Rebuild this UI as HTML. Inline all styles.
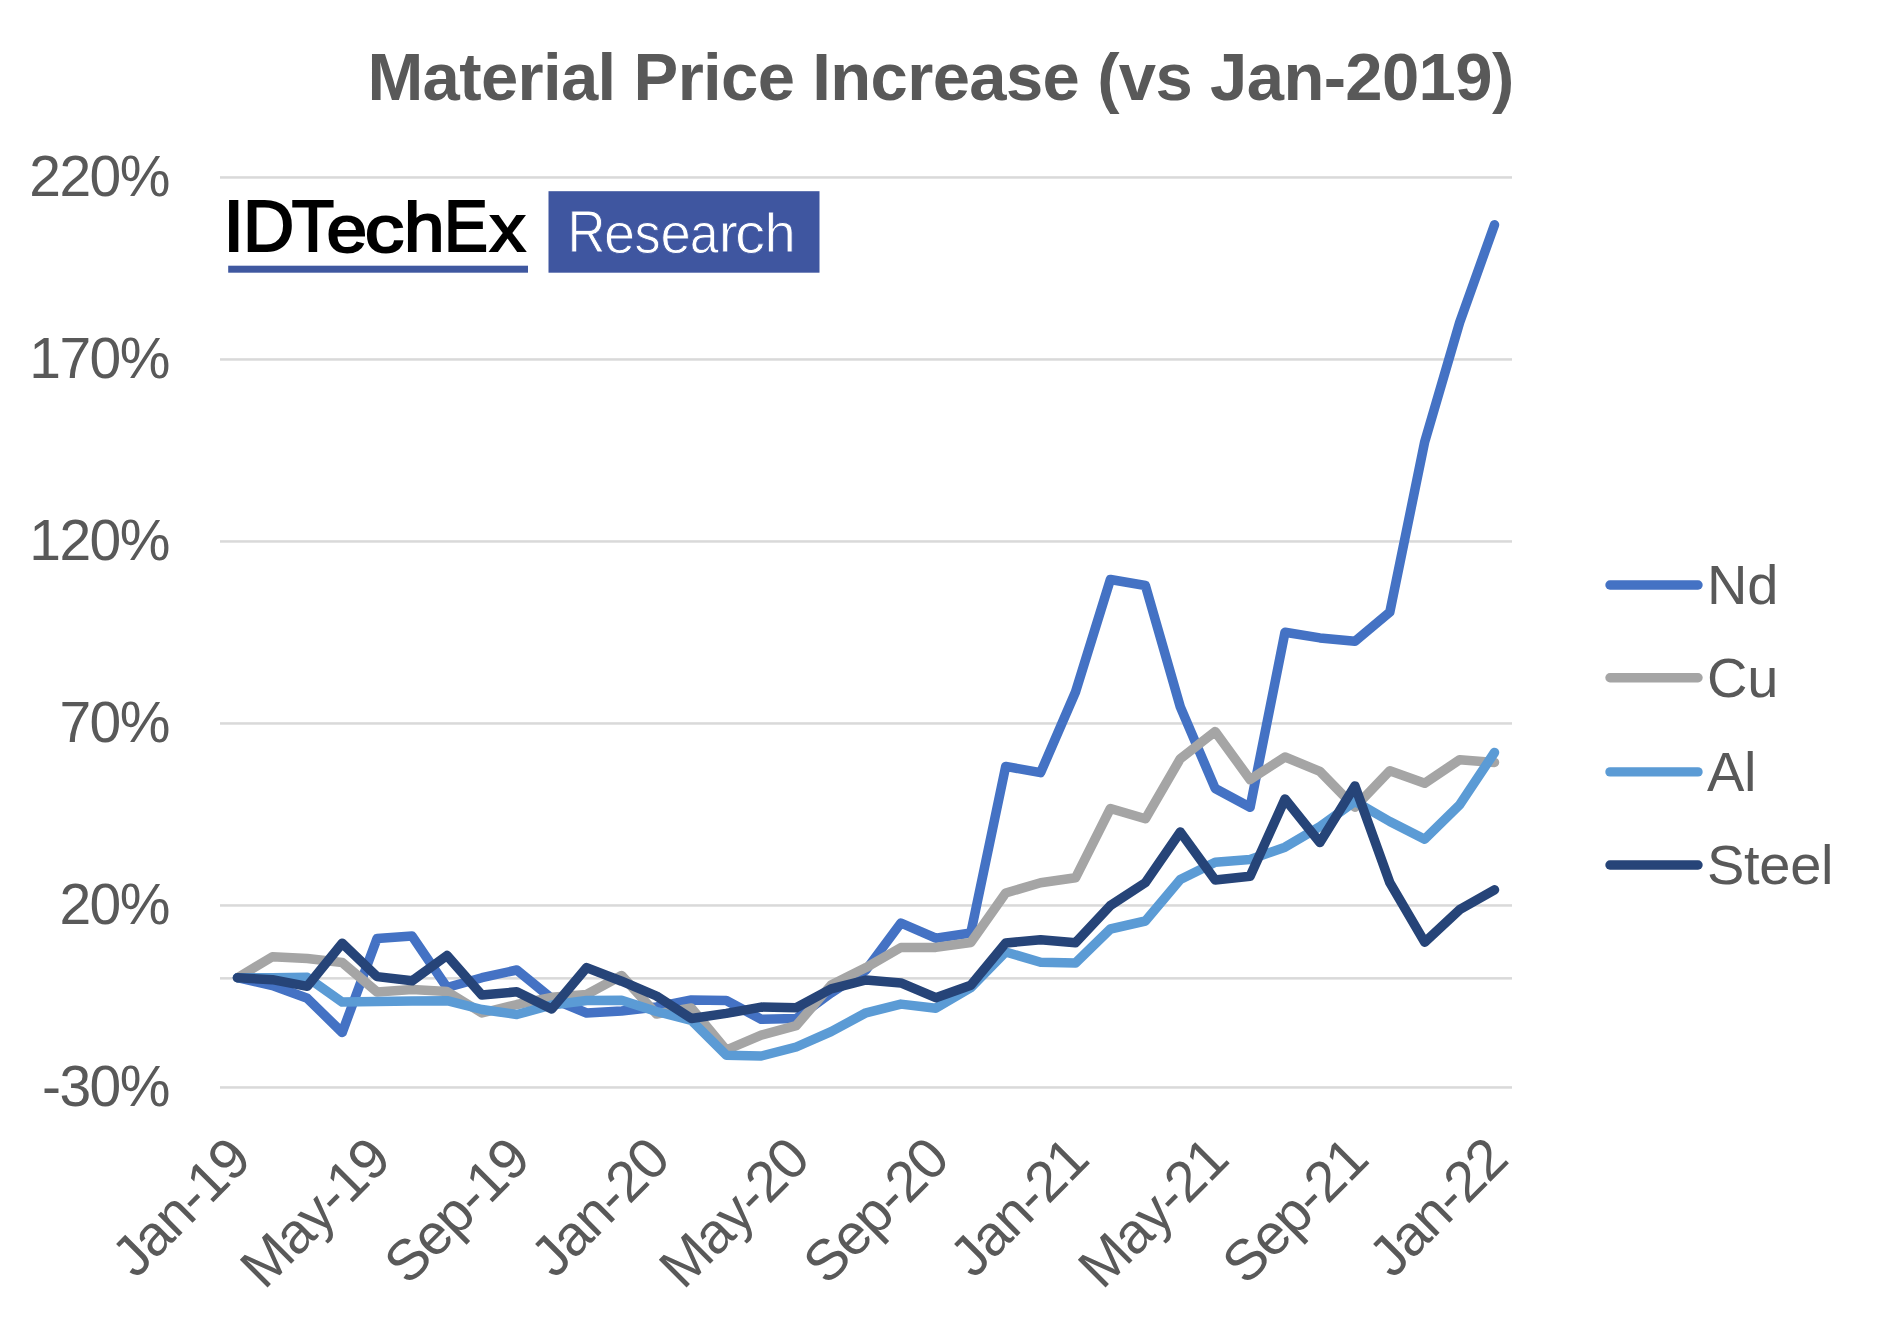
<!DOCTYPE html><html><head><meta charset="utf-8"><style>html,body{margin:0;padding:0;background:#fff;}svg{display:block;}text{font-family:"Liberation Sans",sans-serif;}</style></head><body>
<svg width="1879" height="1329" viewBox="0 0 1879 1329">
<rect width="1879" height="1329" fill="#fff"/>
<text x="940.5" y="100" text-anchor="middle" font-size="67" font-weight="bold" letter-spacing="-0.63" fill="#595959">Material Price Increase (vs Jan-2019)</text>
<rect x="220" y="176.2" width="1292" height="2.5" fill="#d9d9d9"/>
<rect x="220" y="358.2" width="1292" height="2.5" fill="#d9d9d9"/>
<rect x="220" y="540.2" width="1292" height="2.5" fill="#d9d9d9"/>
<rect x="220" y="722.2" width="1292" height="2.5" fill="#d9d9d9"/>
<rect x="220" y="904.2" width="1292" height="2.5" fill="#d9d9d9"/>
<rect x="220" y="977.1" width="1292" height="2.5" fill="#d9d9d9"/>
<rect x="220" y="1086.2" width="1292" height="2.5" fill="#d9d9d9"/>
<text x="169" y="195.5" text-anchor="end" font-size="57" letter-spacing="-1.5" fill="#595959">220%</text>
<text x="169" y="377.5" text-anchor="end" font-size="57" letter-spacing="-1.5" fill="#595959">170%</text>
<text x="169" y="559.5" text-anchor="end" font-size="57" letter-spacing="-1.5" fill="#595959">120%</text>
<text x="169" y="741.5" text-anchor="end" font-size="57" letter-spacing="-1.5" fill="#595959">70%</text>
<text x="169" y="923.5" text-anchor="end" font-size="57" letter-spacing="-1.5" fill="#595959">20%</text>
<text x="169" y="1105.5" text-anchor="end" font-size="57" letter-spacing="-1.5" fill="#595959">-30%</text>
<text transform="translate(253.0,1162.4) rotate(-45)" text-anchor="end" font-size="57" letter-spacing="-1.4" fill="#595959">Jan-19</text>
<text transform="translate(392.6,1162.4) rotate(-45)" text-anchor="end" font-size="57" letter-spacing="-1.4" fill="#595959">May-19</text>
<text transform="translate(532.3,1162.4) rotate(-45)" text-anchor="end" font-size="57" letter-spacing="-1.4" fill="#595959">Sep-19</text>
<text transform="translate(672.0,1162.4) rotate(-45)" text-anchor="end" font-size="57" letter-spacing="-1.4" fill="#595959">Jan-20</text>
<text transform="translate(811.7,1162.4) rotate(-45)" text-anchor="end" font-size="57" letter-spacing="-1.4" fill="#595959">May-20</text>
<text transform="translate(951.3,1162.4) rotate(-45)" text-anchor="end" font-size="57" letter-spacing="-1.4" fill="#595959">Sep-20</text>
<text transform="translate(1091.0,1162.4) rotate(-45)" text-anchor="end" font-size="57" letter-spacing="-1.4" fill="#595959">Jan-21</text>
<text transform="translate(1230.7,1162.4) rotate(-45)" text-anchor="end" font-size="57" letter-spacing="-1.4" fill="#595959">May-21</text>
<text transform="translate(1370.4,1162.4) rotate(-45)" text-anchor="end" font-size="57" letter-spacing="-1.4" fill="#595959">Sep-21</text>
<text transform="translate(1510.0,1162.4) rotate(-45)" text-anchor="end" font-size="57" letter-spacing="-1.4" fill="#595959">Jan-22</text>
<text x="100" y="300" font-size="200" transform="matrix(0.37600 0 0 0.35972 185.660 143.004)" fill="#000" stroke="#000" stroke-width="6">I</text>
<text x="100" y="300" font-size="200" transform="matrix(0.35440 0 0 0.35972 207.653 143.004)" fill="#000" stroke="#000" stroke-width="6">D</text>
<text x="100" y="300" font-size="200" transform="matrix(0.34706 0 0 0.35972 257.000 143.004)" fill="#000" stroke="#000" stroke-width="6">T</text>
<text x="100" y="300" font-size="200" transform="matrix(0.36566 0 0 0.33707 289.840 150.594)" fill="#000" stroke="#000" stroke-width="6">e</text>
<text x="100" y="300" font-size="200" transform="matrix(0.39348 0 0 0.33707 325.291 150.594)" fill="#000" stroke="#000" stroke-width="6">c</text>
<text x="100" y="300" font-size="200" transform="matrix(0.36444 0 0 0.34305 367.447 148.057)" fill="#000" stroke="#000" stroke-width="6">h</text>
<text x="100" y="300" font-size="200" transform="matrix(0.32957 0 0 0.35972 411.059 143.004)" fill="#000" stroke="#000" stroke-width="6">E</text>
<text x="100" y="300" font-size="200" transform="matrix(0.35755 0 0 0.33304 454.118 151.090)" fill="#000" stroke="#000" stroke-width="6">x</text>
<rect x="228.2" y="265.7" width="299.8" height="7" fill="#3f58a0"/>
<rect x="548.5" y="191.2" width="271" height="81.5" fill="#3f56a0"/>
<text x="100" y="300" font-size="200" transform="matrix(0.26271 0 0 0.29203 541.225 164.691)" fill="#fff" stroke="#3f56a0" stroke-width="3">R</text>
<text x="100" y="300" font-size="200" transform="matrix(0.27849 0 0 0.28455 576.144 167.567)" fill="#fff" stroke="#3f56a0" stroke-width="3">e</text>
<text x="100" y="300" font-size="200" transform="matrix(0.26092 0 0 0.28716 608.543 166.779)" fill="#fff" stroke="#3f56a0" stroke-width="3">s</text>
<text x="100" y="300" font-size="200" transform="matrix(0.27204 0 0 0.28455 633.347 167.567)" fill="#fff" stroke="#3f56a0" stroke-width="3">e</text>
<text x="100" y="300" font-size="200" transform="matrix(0.25980 0 0 0.28455 663.781 167.567)" fill="#fff" stroke="#3f56a0" stroke-width="3">a</text>
<text x="100" y="300" font-size="200" transform="matrix(0.28600 0 0 0.27870 690.182 168.689)" fill="#fff" stroke="#3f56a0" stroke-width="3">r</text>
<text x="100" y="300" font-size="200" transform="matrix(0.30116 0 0 0.28455 704.973 167.567)" fill="#fff" stroke="#3f56a0" stroke-width="3">c</text>
<text x="100" y="300" font-size="200" transform="matrix(0.28095 0 0 0.27793 736.471 168.921)" fill="#fff" stroke="#3f56a0" stroke-width="3">h</text>
<polyline points="237.5,977.7 272.4,985.5 307.3,998.3 342.2,1032.5 377.1,938.4 412.1,936.1 447.0,987.5 481.9,977.7 516.8,970.0 551.7,998.5 586.6,1013.0 621.6,1011.0 656.5,1007.0 691.4,1000.0 726.3,1000.5 761.2,1019.3 796.2,1018.5 831.1,993.0 866.0,970.0 900.9,923.0 935.8,938.2 970.8,933.0 1005.7,766.4 1040.6,772.7 1075.5,692.0 1110.4,579.5 1145.4,585.5 1180.3,706.9 1215.2,788.5 1250.1,807.2 1285.0,632.3 1319.9,637.9 1354.9,641.3 1389.8,612.2 1424.7,441.8 1459.6,322.6 1494.5,224.8" fill="none" stroke="#4472c4" stroke-width="9.5" stroke-linejoin="round" stroke-linecap="round"/>
<polyline points="237.5,977.7 272.4,956.7 307.3,958.5 342.2,962.5 377.1,992.0 412.1,989.5 447.0,991.5 481.9,1013.0 516.8,1004.5 551.7,997.3 586.6,994.5 621.6,975.5 656.5,1014.0 691.4,1008.0 726.3,1050.0 761.2,1035.1 796.2,1025.7 831.1,985.0 866.0,967.6 900.9,947.5 935.8,947.4 970.8,942.5 1005.7,893.0 1040.6,882.7 1075.5,877.8 1110.4,808.5 1145.4,818.8 1180.3,758.7 1215.2,731.6 1250.1,779.6 1285.0,757.0 1319.9,771.4 1354.9,807.3 1389.8,770.8 1424.7,783.2 1459.6,759.7 1494.5,762.4" fill="none" stroke="#a5a5a5" stroke-width="9.5" stroke-linejoin="round" stroke-linecap="round"/>
<polyline points="237.5,977.7 272.4,977.8 307.3,977.3 342.2,1002.1 377.1,1001.5 412.1,1001.0 447.0,1000.7 481.9,1009.5 516.8,1014.5 551.7,1005.0 586.6,1000.5 621.6,1000.2 656.5,1011.5 691.4,1020.5 726.3,1055.2 761.2,1056.0 796.2,1047.0 831.1,1031.6 866.0,1012.8 900.9,1004.1 935.8,1008.2 970.8,987.7 1005.7,952.0 1040.6,962.2 1075.5,963.0 1110.4,929.0 1145.4,921.0 1180.3,879.5 1215.2,862.2 1250.1,859.6 1285.0,847.2 1319.9,826.6 1354.9,801.4 1389.8,821.5 1424.7,839.2 1459.6,804.9 1494.5,752.5" fill="none" stroke="#5b9bd5" stroke-width="9.5" stroke-linejoin="round" stroke-linecap="round"/>
<polyline points="237.5,977.7 272.4,979.7 307.3,986.3 342.2,943.3 377.1,976.6 412.1,980.8 447.0,955.5 481.9,995.1 516.8,991.8 551.7,1009.0 586.6,967.6 621.6,981.2 656.5,996.0 691.4,1018.5 726.3,1013.4 761.2,1007.1 796.2,1007.7 831.1,988.9 866.0,980.0 900.9,982.9 935.8,997.7 970.8,985.2 1005.7,943.0 1040.6,939.8 1075.5,942.8 1110.4,905.5 1145.4,882.6 1180.3,832.0 1215.2,880.0 1250.1,876.2 1285.0,799.0 1319.9,842.5 1354.9,785.9 1389.8,882.6 1424.7,942.2 1459.6,909.7 1494.5,889.8" fill="none" stroke="#264478" stroke-width="9.5" stroke-linejoin="round" stroke-linecap="round"/>
<line x1="1610" y1="585.0" x2="1698" y2="585.0" stroke="#4472c4" stroke-width="9.4" stroke-linecap="round"/>
<text x="1707" y="604.0" font-size="56" letter-spacing="-0.3" fill="#595959">Nd</text>
<line x1="1610" y1="677.7" x2="1698" y2="677.7" stroke="#a5a5a5" stroke-width="9.4" stroke-linecap="round"/>
<text x="1707" y="696.7" font-size="56" letter-spacing="-0.3" fill="#595959">Cu</text>
<line x1="1610" y1="771.9" x2="1698" y2="771.9" stroke="#5b9bd5" stroke-width="9.4" stroke-linecap="round"/>
<text x="1707" y="790.9" font-size="56" letter-spacing="-0.3" fill="#595959">Al</text>
<line x1="1610" y1="865.0" x2="1698" y2="865.0" stroke="#264478" stroke-width="9.4" stroke-linecap="round"/>
<text x="1707" y="884.0" font-size="56" letter-spacing="-0.3" fill="#595959">Steel</text>
</svg></body></html>
